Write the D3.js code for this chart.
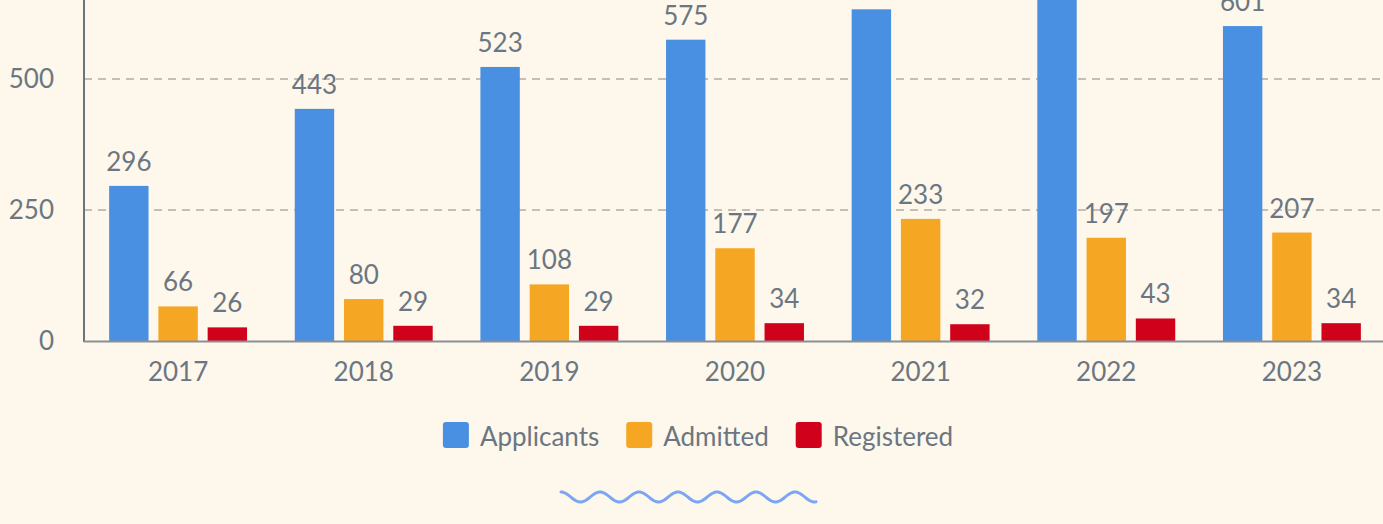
<!DOCTYPE html>
<html>
<head>
<meta charset="utf-8">
<script src="https://cdn.jsdelivr.net/npm/d3@7"></script>
<style>
  html, body { margin: 0; padding: 0; background: #fdf8eb; }
  svg { display: block; font-family: Lato, "Noto Sans", sans-serif; }
</style>
</head>
<body>
<div id="chart"></div>
<script>
// Chart data
const years = ['2017', '2018', '2019', '2020', '2021', '2022', '2023'];
const applicants = [296, 443, 523, 575, 633, 688, 601];
const admitted = [66, 80, 108, 177, 233, 197, 207];
const registered = [26, 29, 29, 34, 32, 43, 34];
const seriesNames = ['Applicants', 'Admitted', 'Registered'];
const seriesColors = ['#4a90e2', '#f5a623', '#d0021b'];
const yTicks = [0, 250, 500];

const seriesValues = [applicants, admitted, registered];

const CONFIG = {
  width: 1383,
  height: 524,
  left: 84,
  right: 1385,
  baseline: 341,
  top: -52,
  textColor: '#6c7682',
  fontSize: 26
};

const svg = d3.select('#chart')
  .append('svg')
  .attr('width', CONFIG.width)
  .attr('height', CONFIG.height);

// Scales
const x0 = d3.scaleBand()
  .domain(years)
  .range([CONFIG.left + 1, CONFIG.right])
  .paddingInner(0.257)
  .paddingOuter(0.13);

const x1 = d3.scaleBand()
  .domain(seriesNames)
  .range([0, x0.bandwidth()])
  .paddingInner(0.2);

const y = d3.scaleLinear()
  .domain([0, 750])
  .range([CONFIG.baseline, CONFIG.top]);

// Gridlines (behind bars)
svg.append('g')
  .selectAll('line')
  .data(yTicks.filter(d => d > 0))
  .enter()
  .append('line')
  .attr('x1', CONFIG.left)
  .attr('x2', CONFIG.width)
  .attr('y1', d => y(d))
  .attr('y2', d => y(d))
  .attr('stroke', '#c2bfb8')
  .attr('stroke-width', 2)
  .attr('stroke-dasharray', '8,6');

// Y axis labels
const yAxis = svg.append('g')
  .attr('transform', `translate(${CONFIG.left},0)`)
  .call(d3.axisLeft(y).tickValues(yTicks).tickSize(0).tickPadding(30));
yAxis.select('.domain').remove();
yAxis.selectAll('text')
  .attr('fill', CONFIG.textColor)
  .style('font-size', CONFIG.fontSize + 'px')
  .style('font-family', 'Lato');

// Bars
const rows = years.map((yr, i) => ({
  year: yr,
  values: seriesNames.map((name, s) => ({ name, value: seriesValues[s][i], color: seriesColors[s] }))
}));

const groups = svg.append('g')
  .selectAll('g')
  .data(rows)
  .enter()
  .append('g')
  .attr('transform', d => `translate(${x0(d.year)},0)`);

groups.selectAll('rect')
  .data(d => d.values)
  .enter()
  .append('rect')
  .attr('x', d => x1(d.name))
  .attr('width', x1.bandwidth())
  .attr('y', d => y(d.value))
  .attr('height', d => y(0) - y(d.value))
  .attr('fill', d => d.color);

// value labels; the tallest ones sit above the visible area, as in the reference
groups.selectAll('text')
  .data(d => d.values.filter(v => y(v.value) - 15 > 0))
  .enter()
  .append('text')
  .attr('x', d => x1(d.name) + x1.bandwidth() / 2)
  .attr('y', d => y(d.value) - 15)
  .attr('text-anchor', 'middle')
  .attr('fill', CONFIG.textColor)
  .style('font-size', CONFIG.fontSize + 'px')
  .text(d => d.value);

// Axis lines
svg.append('line')
  .attr('x1', CONFIG.left)
  .attr('x2', CONFIG.left)
  .attr('y1', CONFIG.top)
  .attr('y2', CONFIG.baseline + 1)
  .attr('stroke', '#6b7280')
  .attr('stroke-width', 2);

svg.append('line')
  .attr('x1', CONFIG.left)
  .attr('x2', CONFIG.width)
  .attr('y1', CONFIG.baseline + 0.5)
  .attr('y2', CONFIG.baseline + 0.5)
  .attr('stroke', '#8b8e93')
  .attr('stroke-width', 2);

// X axis labels
const xAxis = svg.append('g')
  .attr('transform', `translate(0,${CONFIG.baseline})`)
  .call(d3.axisBottom(x0).tickSize(0).tickPadding(22));
xAxis.select('.domain').remove();
xAxis.selectAll('text')
  .attr('fill', CONFIG.textColor)
  .style('font-size', CONFIG.fontSize + 'px')
  .style('font-family', 'Lato');

// Legend
const legend = svg.append('g');
const items = legend.selectAll('g')
  .data(seriesNames)
  .enter()
  .append('g');

items.append('rect')
  .attr('width', 26)
  .attr('height', 26)
  .attr('y', 422)
  .attr('rx', 3)
  .attr('fill', (d, i) => seriesColors[i]);

items.append('text')
  .attr('x', 37)
  .attr('y', 446)
  .attr('fill', CONFIG.textColor)
  .style('font-size', CONFIG.fontSize + 'px')
  .text(d => d);

const legendGap = 27;
let offset = 0;
items.each(function() {
  const g = d3.select(this);
  g.attr('transform', `translate(${offset},0)`);
  offset += 37 + g.select('text').node().getComputedTextLength() + legendGap;
});
const legendWidth = offset - legendGap;
legend.attr('transform', `translate(${698 - legendWidth / 2},0)`);

// Decorative wave under the legend
const waveStart = 561, waveEnd = 816, waveY = 497, waveAmp = 5, wavePeriod = 39;
const wavePts = d3.range(0, waveEnd - waveStart + 0.5, 1)
  .map(t => [waveStart + t, waveY - waveAmp * Math.cos(2 * Math.PI * t / wavePeriod)]);
svg.append('path')
  .attr('d', d3.line().curve(d3.curveBasis)(wavePts))
  .attr('fill', 'none')
  .attr('stroke', '#7ca6f4')
  .attr('stroke-width', 3)
  .attr('stroke-linecap', 'round');
</script>
</body>
</html>
